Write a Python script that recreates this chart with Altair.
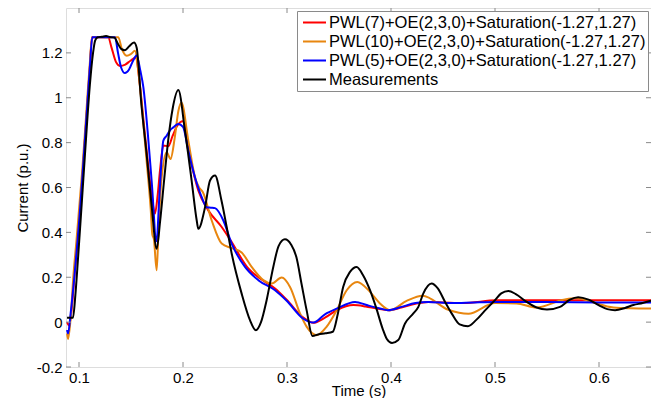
import altair as alt
import pandas as pd

FONT = "Liberation Sans"
AXIS_COLOR = "#8a8a8a"

labels = [
    "PWL(7)+OE(2,3,0)+Saturation(-1.27,1.27)",
    "PWL(10)+OE(2,3,0)+Saturation(-1.27,1.27)",
    "PWL(5)+OE(2,3,0)+Saturation(-1.27,1.27)",
    "Measurements",
]
colors = ["#ff0000", "#e8860f", "#0000ff", "#000000"]

x_ticks = [0.1, 0.2, 0.3, 0.4, 0.5, 0.6]
y_ticks = [-0.2, 0, 0.2, 0.4, 0.6, 0.8, 1, 1.2]

# Measurements
t_meas = [0.0885, 0.0942, 0.0965, 0.099, 0.1015, 0.1045, 0.1075, 0.1105, 0.1135, 0.1155,
          0.118, 0.122, 0.126, 0.13, 0.134, 0.1375, 0.1405, 0.1442, 0.148, 0.1529,
          0.1554, 0.160, 0.165, 0.170, 0.1747, 0.178, 0.182, 0.186, 0.19, 0.1955,
          0.2019, 0.2083, 0.2132, 0.2147, 0.2212, 0.226, 0.2308, 0.237, 0.242, 0.2468,
          0.2564, 0.2644, 0.27, 0.275, 0.2805, 0.2868, 0.292, 0.298, 0.304, 0.309,
          0.314, 0.319, 0.3245, 0.33, 0.337, 0.344, 0.349, 0.354, 0.3606, 0.367,
          0.373, 0.38, 0.386, 0.392, 0.396, 0.401, 0.407, 0.4135, 0.4215, 0.4263,
          0.431, 0.439, 0.445, 0.452, 0.4583, 0.466, 0.474, 0.482, 0.49, 0.5,
          0.506, 0.5128, 0.52, 0.5305, 0.54, 0.55, 0.5625, 0.572, 0.58, 0.59,
          0.6, 0.608, 0.6154, 0.625, 0.633, 0.642, 0.65]
v_meas = [0.02, 0.02, 0.12, 0.28, 0.45, 0.66, 0.87, 1.06, 1.2, 1.255,
          1.27, 1.272, 1.275, 1.27, 1.268, 1.24, 1.218, 1.212, 1.228, 1.246,
          1.224, 0.97, 0.75, 0.51, 0.327, 0.45, 0.64, 0.82, 0.95, 1.034,
          0.853, 0.631, 0.453, 0.416, 0.512, 0.631, 0.653, 0.542, 0.424, 0.306,
          0.127, 0.009, -0.036, 0.0, 0.1, 0.246, 0.34, 0.369, 0.345, 0.29,
          0.17, 0.05, -0.062, -0.055, -0.05, -0.043, 0.04, 0.157, 0.224, 0.246,
          0.21, 0.14, 0.06, -0.03, -0.075, -0.093, -0.08, -0.006, 0.039, 0.068,
          0.127, 0.172, 0.15, 0.09, 0.039, -0.01, -0.018, 0.01, 0.05, 0.098,
          0.128, 0.139, 0.125, 0.09, 0.065, 0.056, 0.068, 0.1, 0.111, 0.1,
          0.075, 0.058, 0.053, 0.063, 0.076, 0.085, 0.095]

# PWL(7)
t_pwl7 = [0.0885, 0.0905, 0.093, 0.0955, 0.098, 0.1005, 0.103, 0.1055, 0.108, 0.1105,
          0.1125, 0.128, 0.1315, 0.1355, 0.1394, 0.1445, 0.1495, 0.1548, 0.158, 0.162,
          0.166, 0.17, 0.173, 0.1755, 0.1779, 0.1811, 0.1859, 0.19, 0.1945, 0.1997,
          0.2067, 0.2147, 0.2243, 0.2372, 0.245, 0.2628, 0.2756, 0.2885, 0.2997, 0.3157,
          0.3253, 0.3365, 0.3478, 0.3638, 0.3755, 0.386, 0.3974, 0.41, 0.4235, 0.4358,
          0.45, 0.4695, 0.5016, 0.55, 0.6, 0.65]
v_pwl7 = [0.0, -0.015, 0.06, 0.2, 0.33, 0.47, 0.63, 0.8, 0.97, 1.14,
          1.27, 1.27, 1.22, 1.16, 1.142, 1.148, 1.165, 1.179, 1.08, 0.9,
          0.72, 0.56, 0.483, 0.56, 0.676, 0.787, 0.784, 0.83, 0.875, 0.895,
          0.735, 0.587, 0.498, 0.424, 0.37, 0.239, 0.19, 0.15, 0.1, 0.02,
          -0.003, 0.02, 0.053, 0.076, 0.07, 0.061, 0.053, 0.065, 0.082, 0.09,
          0.088, 0.085, 0.097, 0.098, 0.098, 0.097]

# PWL(10)
t_pwl10 = [0.0885, 0.0895, 0.092, 0.0945, 0.0975, 0.1, 0.103, 0.1055, 0.108, 0.1105, 0.1125,
           0.1378, 0.141, 0.1459, 0.15, 0.1538, 0.157, 0.161, 0.165, 0.169, 0.1705,
           0.172, 0.1747, 0.1765, 0.179, 0.1843, 0.188, 0.192, 0.1955, 0.1985, 0.2051,
           0.2115, 0.2155, 0.219, 0.2276, 0.2372, 0.2468, 0.2564, 0.266, 0.2772, 0.2853,
           0.2949, 0.3029, 0.3125, 0.319, 0.3285, 0.338, 0.3478, 0.3574, 0.3676, 0.3798,
           0.3894, 0.399, 0.415, 0.4303, 0.4551, 0.4744, 0.5, 0.5208, 0.54, 0.5657,
           0.5785, 0.593, 0.6138, 0.63, 0.65]
v_pwl10 = [-0.05, -0.075, 0.02, 0.2, 0.36, 0.5, 0.67, 0.83, 1.0, 1.16, 1.27,
           1.27, 1.22, 1.187, 1.195, 1.209, 1.12, 0.93, 0.72, 0.5, 0.39,
           0.37, 0.231, 0.42, 0.62, 0.757, 0.727, 0.82, 0.94, 0.979, 0.809,
           0.646, 0.6, 0.58, 0.453, 0.35, 0.33, 0.31, 0.246, 0.187, 0.172,
           0.199, 0.157, 0.039, -0.021, -0.058, -0.021, 0.053, 0.142, 0.179, 0.135,
           0.083, 0.053, 0.095, 0.118, 0.055, 0.037, 0.085, 0.083, 0.065, 0.1,
           0.108, 0.09, 0.065, 0.062, 0.061]

# PWL(5)
t_pwl5 = [0.0885, 0.0895, 0.092, 0.0955, 0.098, 0.1005, 0.103, 0.1055, 0.108, 0.1105, 0.1128,
          0.1346, 0.1375, 0.1405, 0.1442, 0.148, 0.152, 0.1554, 0.159, 0.1619, 0.166,
          0.17, 0.1745, 0.1775, 0.1811, 0.1843, 0.1875, 0.1907, 0.1955, 0.2, 0.2051,
          0.2115, 0.218, 0.2228, 0.2268, 0.2308, 0.2388, 0.2468, 0.2596, 0.2724, 0.2885,
          0.2997, 0.3157, 0.3253, 0.3365, 0.3478, 0.3654, 0.3775, 0.3894, 0.397, 0.41,
          0.4235, 0.4358, 0.4583, 0.48, 0.5, 0.55, 0.6, 0.65]
v_pwl5 = [-0.035, -0.05, 0.04, 0.2, 0.33, 0.47, 0.63, 0.8, 0.97, 1.14, 1.27,
          1.27, 1.2, 1.135, 1.11, 1.125, 1.165, 1.188, 1.12, 1.046, 0.85,
          0.62, 0.36, 0.58, 0.809, 0.831, 0.855, 0.868, 0.883, 0.87, 0.764,
          0.646, 0.557, 0.512, 0.51, 0.508, 0.453, 0.35, 0.246, 0.187, 0.142,
          0.095, 0.015, -0.002, 0.035, 0.06, 0.09, 0.075, 0.061, 0.053, 0.068,
          0.085, 0.09, 0.085, 0.088, 0.09, 0.09, 0.088, 0.088]

series_t = [t_pwl7, t_pwl10, t_pwl5, t_meas]
series_v = [v_pwl7, v_pwl10, v_pwl5, v_meas]

frames = []
for name, t, v in zip(labels, series_t, series_v):
    frames.append(pd.DataFrame({"t": t, "v": v, "series": name}))
df = pd.concat(frames, ignore_index=True)

W, H = 585, 359
xscale = alt.Scale(domain=[0.0875, 0.65], nice=False, zero=False)
yscale = alt.Scale(domain=[-0.2, 1.4], nice=False, zero=False)

xaxis = alt.Axis(values=x_ticks, title="Time (s)", grid=False, ticks=False, domain=False,
                 labelExpr="'' + datum.value", labelFont=FONT, labelFontSize=15,
                 labelColor="black", labelPadding=3, titleFont=FONT, titleFontSize=15,
                 titleFontWeight="normal", titleColor="black",
                 titleY=28, titleBaseline="alphabetic")
yaxis = alt.Axis(values=y_ticks, title="Current (p.u.)", grid=False, ticks=False, domain=False,
                 labelExpr="'' + datum.value", labelFont=FONT, labelFontSize=15,
                 labelColor="black", labelPadding=4, titleFont=FONT, titleFontSize=15,
                 titleFontWeight="normal", titleColor="black", titlePadding=6)

color = alt.Color(
    "series:N",
    scale=alt.Scale(domain=labels, range=colors),
    legend=alt.Legend(title=None, orient="top-right", offset=3, strokeColor=AXIS_COLOR,
                      fillColor="white", padding=2, labelFont=FONT, labelFontSize=16.5,
                      labelColor="black", labelLimit=600, symbolType="stroke",
                      symbolSize=529, symbolStrokeWidth=2, rowPadding=0, clipHeight=19,
                      symbolOffset=3, labelOffset=2, cornerRadius=0),
)

base = alt.Chart(df)
layers = []
for name in labels:
    layers.append(
        base.transform_filter(alt.datum.series == name)
        .mark_line(strokeWidth=2, interpolate="monotone", clip=True)
        .encode(
            x=alt.X("t:Q", scale=xscale, axis=xaxis),
            y=alt.Y("v:Q", scale=yscale, axis=yaxis),
            color=color,
        )
    )

xt = pd.DataFrame({"xt": x_ticks})
yt = pd.DataFrame({"yt": y_ticks})
tick_len = 5
bottom_ticks = alt.Chart(xt).mark_rule(color=AXIS_COLOR).encode(
    x=alt.X("xt:Q", scale=xscale, axis=xaxis), y=alt.value(H), y2=alt.value(H - tick_len))
top_ticks = alt.Chart(xt).mark_rule(color=AXIS_COLOR).encode(
    x=alt.X("xt:Q", scale=xscale, axis=xaxis), y=alt.value(0), y2=alt.value(tick_len))
left_ticks = alt.Chart(yt).mark_rule(color=AXIS_COLOR).encode(
    y=alt.Y("yt:Q", scale=yscale, axis=yaxis), x=alt.value(0), x2=alt.value(tick_len))
right_ticks = alt.Chart(yt).mark_rule(color=AXIS_COLOR).encode(
    y=alt.Y("yt:Q", scale=yscale, axis=yaxis), x=alt.value(W), x2=alt.value(W - tick_len))

chart = alt.layer(*layers, bottom_ticks, top_ticks, left_ticks, right_ticks).properties(
    width=W, height=H, autosize="none",
    padding={"left": 58, "top": 0, "right": 0, "bottom": 31},
).configure_view(stroke=AXIS_COLOR, strokeWidth=1).configure(font=FONT)

chart.save("out.html", embed_options={"renderer": "svg", "actions": False})
